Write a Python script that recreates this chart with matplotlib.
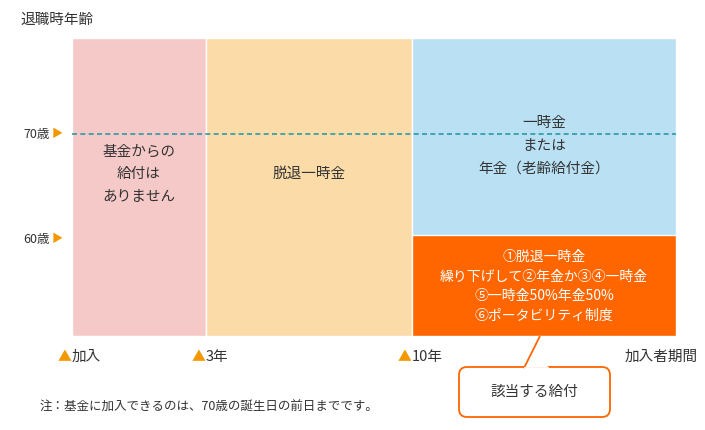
import matplotlib.pyplot as plt
from matplotlib.patches import Rectangle, FancyBboxPatch, Polygon

plt.rcParams["font.family"] = "Noto Sans CJK JP"

# segment edges along the membership-period axis (axis units)
seg_edges = [0, 134, 340, 604]
seg_colors = ["#f6c9c9", "#fbdca8", "#b9e1f3"]
seg_labels = ["基金からの\n給付は\nありません", "脱退一時金", "一時金\nまたは\n年金（老齢給付金）"]
seg_label_y = [136, 136, 108]
tick_labels = ["加入", "3年", "10年"]
age_labels = ["70歳", "60歳"]
age_y = [96, 201]          # axis units measured downward from top of chart
chart_h = 298
orange_top = 197
orange_text = "①脱退一時金\n繰り下げして②年金か③④一時金\n⑤一時金50%年金50%\n⑥ポータビリティ制度"

fig = plt.figure(figsize=(7.05, 4.30), dpi=100)
ax = fig.add_axes([0, 0, 1, 1])
ax.set_xlim(-72, 633)
ax.set_ylim(392, -38)
ax.axis("off")

for i, c in enumerate(seg_colors):
    ax.add_patch(Rectangle((seg_edges[i], 0), seg_edges[i + 1] - seg_edges[i], chart_h,
                           facecolor=c, edgecolor="white", lw=1))
    ax.text((seg_edges[i] + seg_edges[i + 1]) / 2, seg_label_y[i], seg_labels[i],
            ha="center", va="center", fontsize=10.5, color="#333333", linespacing=1.8)

ax.add_patch(Rectangle((seg_edges[2], orange_top), seg_edges[3] - seg_edges[2],
                       chart_h - orange_top, facecolor="#ff6600", edgecolor="white", lw=1))
ax.text((seg_edges[2] + seg_edges[3]) / 2, (orange_top + chart_h) / 2 + 1, orange_text,
        ha="center", va="center", fontsize=10, color="white", linespacing=1.5)

ax.plot([seg_edges[0], seg_edges[3]], [age_y[0], age_y[0]], ls=(0, (3, 2)),
        color="#2a9aa8", lw=1.2)

for lab, y in zip(age_labels, age_y):
    ax.text(-9, y, "▶", ha="right", va="center", fontsize=8, color="#f39800")
    ax.text(-22, y, lab, ha="right", va="center", fontsize=9, color="#333333")

ax.text(-52, -18, "退職時年齢", ha="left", va="center", fontsize=10.5, color="#333333")

for lab, x in zip(tick_labels, seg_edges[:3]):
    ax.text(x - 14, 319, "▲", ha="left", va="center", fontsize=10, color="#f39800")
    ax.text(x, 319, lab, ha="left", va="center", fontsize=10.5, color="#333333")
ax.text(seg_edges[3] + 22, 319, "加入者期間", ha="right", va="center", fontsize=10.5, color="#333333")

ax.text(-32, 369, "注：基金に加入できるのは、70歳の誕生日の前日までです。", ha="left", va="center",
        fontsize=9, color="#333333")

ax.add_patch(FancyBboxPatch((387, 329), 151, 50, boxstyle="round,pad=0,rounding_size=8",
                            facecolor="white", edgecolor="#ff6600", lw=1.3, zorder=3))
ax.add_patch(Polygon([[468, 298], [452, 330], [476, 330]], closed=False,
                     facecolor="white", edgecolor="#ff6600", lw=1.3, zorder=4))
ax.plot([453, 475], [330, 330], color="white", lw=2, zorder=5)
ax.text(462, 354, "該当する給付", ha="center", va="center", fontsize=10.5, color="#333333", zorder=6)

fig.savefig("out.png", dpi=100)
